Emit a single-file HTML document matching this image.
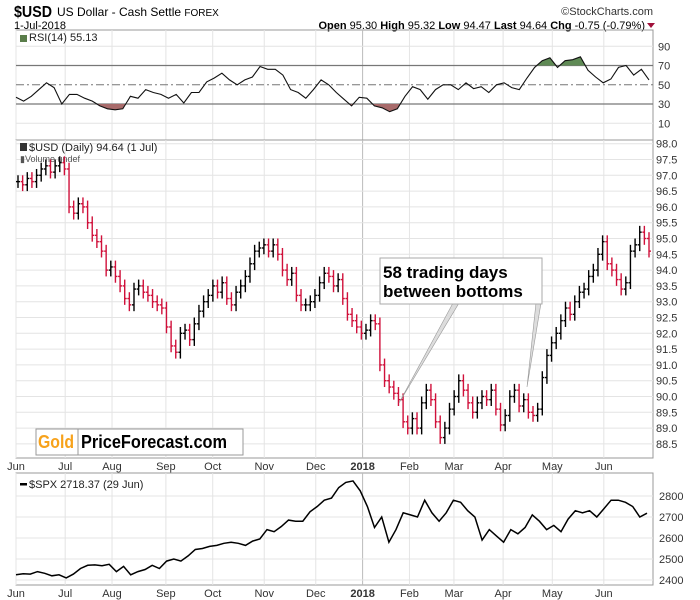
<!DOCTYPE html>
<html><head><meta charset="utf-8">
<style>
body{margin:0;background:#fff;}
svg{display:block;font-family:"Liberation Sans",sans-serif;}
</style></head><body>
<svg id="c" width="700" height="600" viewBox="0 0 700 600">
<rect width="700" height="600" fill="#fff"/>
<g>
<text x="14" y="17" font-size="16" font-weight="bold" textLength="38" lengthAdjust="spacingAndGlyphs">$USD</text>
<text x="57" y="16" font-size="12">US Dollar - Cash Settle <tspan font-size="10">FOREX</tspan></text>
<text x="14" y="29" font-size="11">1-Jul-2018</text>
<text x="653" y="15" font-size="11" text-anchor="end" fill="#333">©StockCharts.com</text>
<text x="645" y="29" font-size="11" text-anchor="end"><tspan font-weight="bold">Open</tspan> 95.30 <tspan font-weight="bold">High</tspan> 95.32 <tspan font-weight="bold">Low</tspan> 94.47 <tspan font-weight="bold">Last</tspan> 94.64 <tspan font-weight="bold">Chg</tspan> -0.75 (-0.79%)</text>
<path d="M647 23 L655 23 L651 28 Z" fill="#a0103a"/>
</g>
<g id="grid"></g>
<g id="marks"></g>
<g>
<polygon points="453,303 459,303 399,403" fill="#ddd" stroke="#999" stroke-width="0.6"/>
<polygon points="536,303 541,303 527,387" fill="#ddd" stroke="#999" stroke-width="0.6"/>
<rect x="380" y="258" width="162" height="46" fill="#fff" stroke="#aaa" stroke-width="1"/>
<text x="383" y="278" font-size="17" font-weight="bold">58 trading days</text>
<text x="383" y="297" font-size="17" font-weight="bold">between bottoms</text>
</g>
<g>
<rect x="36" y="429" width="207" height="26" fill="#fff" stroke="#999" stroke-width="1"/>
<line x1="78" y1="429" x2="78" y2="455" stroke="#999"/>
<text x="38" y="448" font-size="18" font-weight="bold" fill="#f7a21b" textLength="36" lengthAdjust="spacingAndGlyphs">Gold</text>
<text x="81" y="448" font-size="18" font-weight="bold" textLength="146" lengthAdjust="spacingAndGlyphs">PriceForecast.com</text>
</g>
</svg>
<script>
const monthLabels=["Jun","Jul","Aug","Sep","Oct","Nov","Dec","2018","Feb","Mar","Apr","May","Jun"];
const monthStarts=[0,21,41,64,84,106,128,148,168,187,208,229,251];
const totalDays=272;
const priceCloses=[96.8,96.7,96.9,96.8,97.0,97.2,97.3,97.1,97.3,97.4,97.2,
96.0,95.8,96.1,96.0,95.5,95.1,94.9,94.6,94.0,94.1,
93.8,93.5,93.1,92.9,93.4,93.5,93.3,93.2,93.0,92.9,92.8,
92.2,91.6,91.4,92.0,92.1,91.8,92.3,92.7,93.0,93.2,
93.5,93.3,93.6,93.1,92.9,93.3,93.5,93.8,94.2,94.6,94.7,
94.8,94.6,94.8,94.5,94.0,93.7,93.9,93.2,92.9,92.9,93.0,
93.2,93.6,93.9,93.8,93.5,93.7,93.1,92.6,92.4,92.2,
92.0,92.1,92.4,92.3,91.0,90.5,90.3,90.1,89.9,89.2,89.0,
89.3,89.0,89.8,90.2,89.9,89.2,88.7,89.0,89.6,90.0,
90.5,90.2,89.8,89.5,89.8,90.0,89.9,90.2,89.6,89.1,89.4,
90.0,90.2,89.7,89.9,89.5,89.4,89.6,90.6,91.3,91.7,
92.0,92.4,92.8,92.6,93.0,93.3,93.4,93.8,94.0,94.5,94.9,
94.2,94.0,93.7,93.4,93.6,94.6,94.8,95.2,95.0,94.6];
const rsiValues=[37,33,38,45,52,47,30,40,40,36,33,28,25,24,25,38,36,45,42,40,36,40,31,42,42,53,57,62,55,50,55,58,69,66,66,60,45,42,36,45,55,50,42,35,28,37,36,28,26,22,25,38,48,45,35,45,50,50,45,52,46,48,42,50,52,47,45,57,68,75,78,68,75,76,79,65,58,52,56,68,70,60,66,55];
const spxValues=[2425,2430,2428,2440,2432,2420,2425,2410,2428,2455,2470,2472,2468,2475,2440,2465,2425,2440,2450,2470,2455,2490,2500,2490,2515,2545,2550,2560,2565,2575,2580,2575,2565,2585,2595,2640,2630,2655,2685,2680,2680,2725,2750,2780,2790,2840,2865,2872,2825,2750,2650,2700,2580,2640,2720,2710,2700,2780,2720,2680,2720,2780,2770,2730,2700,2590,2640,2610,2580,2640,2620,2650,2710,2680,2640,2660,2630,2690,2730,2720,2730,2700,2740,2780,2780,2770,2750,2700,2718];
const rsiTicks=[90,70,50,30,10];
const priceTicks=[98.0,97.5,97.0,96.5,96.0,95.5,95.0,94.5,94.0,93.5,93.0,92.5,92.0,91.5,91.0,90.5,90.0,89.5,89.0,88.5];
const spxTicks=[2800,2700,2600,2500,2400];

const NS="http://www.w3.org/2000/svg";
const X0=16,X1=653;
const xDay=d=>X0+d/totalDays*(X1-X0);
const yRsi=v=>65.5+(70-v)*0.9625;
const yPrice=v=>143.7+(98-v)*31.6;
const ySpx=v=>496+(2800-v)*0.21;
const grid=document.getElementById('grid'),marks=document.getElementById('marks');
function mk(tag,attrs,parent){const e=document.createElementNS(NS,tag);for(const k in attrs)e.setAttribute(k,attrs[k]);parent.appendChild(e);return e;}

const panels=[[30,140],[140,458],[473,585]];
panels.forEach((p,pi)=>{
  const r=mk('rect',{x:X0,y:p[0],width:X1-X0,height:p[1]-p[0],fill:'none',stroke:'#999','stroke-width':1},grid);
  
  
  monthStarts.forEach((d,i)=>{
    const l=mk('line',{x1:xDay(d),x2:xDay(d),y1:p[0],y2:p[1],stroke:i==7?'#bbb':'#e4e4e4','stroke-width':1},grid);
    
    
  });
});
rsiTicks.forEach(v=>{
  const y=yRsi(v);
  const main=(v==70||v==30);
  const l=mk('line',{x1:X0,x2:X1,y1:y,y2:y,stroke:main?'#777':(v==50?'#777':'#e4e4e4'),'stroke-width':main?1.2:1},grid);
  if(v==50)l.setAttribute('stroke-dasharray','8,3,2,3');
  
  
  const t=mk('text',{x:658,y:y+4,'font-size':11,fill:'#333'},grid);t.textContent=v;
  
  
});
priceTicks.forEach(v=>{
  const y=yPrice(v);
  const l=mk('line',{x1:X0,x2:X1,y1:y,y2:y,stroke:'#e4e4e4'},grid);
  
  
  const t=mk('text',{x:656,y:y+4,'font-size':11,fill:'#333'},grid);t.textContent=v.toFixed(1);
  
  
});
spxTicks.forEach(v=>{
  const y=ySpx(v);
  const l=mk('line',{x1:X0,x2:X1,y1:y,y2:y,stroke:'#e4e4e4'},grid);
  
  
  const t=mk('text',{x:659,y:y+4,'font-size':11,fill:'#333'},grid);t.textContent=v;
  
  
});
[466,593].forEach(yy=>{
  monthLabels.forEach((m,i)=>{
    const t=mk('text',{x:xDay(monthStarts[i]),y:yy+4,'font-size':11,'text-anchor':'middle',fill:'#333','font-weight':i==7?'bold':'normal'},grid);
    t.textContent=m;
    
    
  });
});
// legends
[[21,41,'RSI(14) 55.13','rsi-legend'],[21,151,'$USD (Daily) 94.64 (1 Jul)','price-legend'],[21,488,'$SPX 2718.37 (29 Jun)','spx-legend']].forEach(a=>{
  const t=mk('text',{x:a[0]+8,y:a[1],'font-size':11,fill:'#222'},grid);t.textContent=a[2];
  
  
});
const vt=mk('text',{x:20,y:162,'font-size':9,fill:'#555'},grid);vt.textContent='▮Volume undef';


mk('rect',{x:20,y:35,width:7,height:7,fill:'#5a7d4a'},grid);
mk('rect',{x:20,y:143,width:7,height:8,fill:'#333'},grid);
mk('rect',{x:20,y:483,width:7,height:2.5,fill:'#000'},grid);

// RSI
const rx=i=>X0+i/(rsiValues.length-1)*(X1-4-X0);
let rp=rsiValues.map((v,i)=>(i?'L':'M')+rx(i).toFixed(1)+' '+yRsi(v).toFixed(1)).join('');
const clipA=mk('clipPath',{id:'ca'},marks);mk('rect',{x:X0,y:0,width:X1-X0,height:yRsi(70)},clipA);
const clipB=mk('clipPath',{id:'cb'},marks);mk('rect',{x:X0,y:yRsi(30),width:X1-X0,height:40},clipB);
const fa=mk('path',{d:rp+'L'+rx(rsiValues.length-1)+' '+yRsi(70)+'L'+rx(0)+' '+yRsi(70)+'Z',fill:'#5f8a55','clip-path':'url(#ca)'},marks);


const fb=mk('path',{d:rp+'L'+rx(rsiValues.length-1)+' '+yRsi(30)+'L'+rx(0)+' '+yRsi(30)+'Z',fill:'#a86b6b','clip-path':'url(#cb)'},marks);


const rl=mk('path',{d:rp,fill:'none',stroke:'#111','stroke-width':1.1},marks);



// price bars
const px=i=>X0+2+i/(priceCloses.length-1)*(X1-6-X0);
priceCloses.forEach((c,i)=>{
  const prev=i?priceCloses[i-1]:c;
  const hi=Math.max(prev,c)+0.2, lo=Math.min(prev,c)-0.2;
  const col=c<prev?'#d0103a':'#000';
  const x=px(i);
  const g=mk('g',{stroke:col,'stroke-width':1.4},marks);
  
  
  mk('line',{x1:x,x2:x,y1:yPrice(hi),y2:yPrice(lo)},g);
  mk('line',{x1:x-2,x2:x,y1:yPrice(prev),y2:yPrice(prev)},g);
  mk('line',{x1:x,x2:x+2,y1:yPrice(c),y2:yPrice(c)},g);
});

// SPX
const sx=i=>X0+i/(spxValues.length-1)*(X1-6-X0);
const sl=mk('path',{d:spxValues.map((v,i)=>(i?'L':'M')+sx(i).toFixed(1)+' '+ySpx(v).toFixed(1)).join(''),fill:'none',stroke:'#000','stroke-width':1.5},marks);


</script>
</body></html>
